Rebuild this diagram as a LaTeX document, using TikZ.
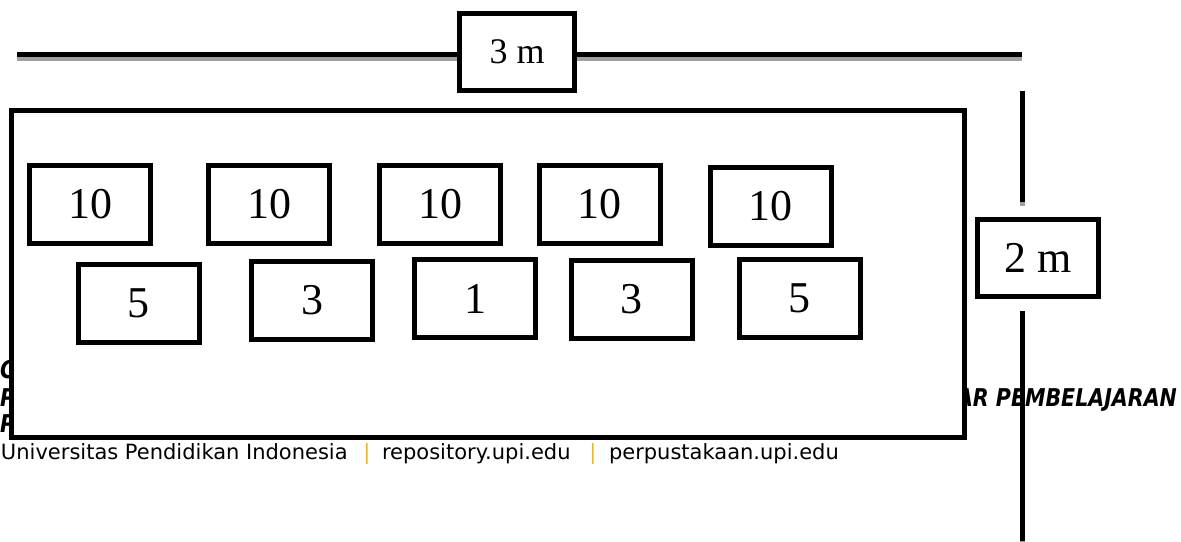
\documentclass[tikz,border=0pt]{standalone}
\usepackage{fontspec}
\newfontfamily\numfont{Liberation Serif}
\newfontfamily\footfont{DejaVu Sans}
\definecolor{barorange}{RGB}{245,182,20}
\definecolor{shadowgray}{RGB}{160,160,160}

\begin{document}
\begin{tikzpicture}[x=1pt,y=-1pt,
  every node/.style={inner sep=0pt, outer sep=0pt},
  % thick rule with a grey drop shadow below it
  rule/.style={line width=5pt,
    preaction={draw=shadowgray, line width=5pt, transform canvas={yshift=-4pt}}},
  seat/.style={draw, line width=5pt, fill=white,
    minimum width=121pt, minimum height=78pt,
    font=\numfont\fontsize{44}{50}\selectfont},
  dimbox/.style={draw, line width=5pt, fill=white, minimum height=77pt},
  headline/.style={anchor=base west, xscale=0.84,
    font=\footfont\bfseries\itshape\fontsize{24.5}{28}\selectfont},
  footline/.style={anchor=base west, font=\footfont\fontsize{21}{25}\selectfont},
  sep/.style={anchor=base, text=barorange, font=\footfont\fontsize{21}{25}\selectfont}]

\useasboundingbox (0,0) rectangle (1181,541);

% page footer lines, partly hidden behind the field
\node[headline] (h1) at (0,378) {C};
\node[headline] (h2) at (0,406) {P};
\node[headline] (h3) at (0,432) {P};
\node[headline] (h4) at (957,406) {AR PEMBELAJARAN};

\node[footline] (u1) at (1,459) {Universitas Pendidikan Indonesia};
\node[sep] (s1) at (367,459) {|};
\node[footline] (u2) at (382,459) {repository.upi.edu};
\node[sep] (s2) at (593,459) {|};
\node[footline] (u3) at (609,459) {perpustakaan.upi.edu};

% the field
\node[draw, line width=5pt, fill=white, minimum width=953pt, minimum height=327.5pt]
  (field) at (488,273.75) {};

% first row
\node[seat] (a1) at (90,204.5) {10};
\node[seat] (a2) at (269,204.5) {10};
\node[seat] (a3) at (440,204.5) {10};
\node[seat] (a4) at (599.5,204.5) {10};
\node[seat] (a5) at (770.5,206.5) {10};

% second row
\node[seat] (b1) at (138.5,303) {5};
\node[seat] (b2) at (312,300.5) {3};
\node[seat] (b3) at (475,298.5) {1};
\node[seat] (b4) at (631.5,299) {3};
\node[seat] (b5) at (799.5,298.5) {5};

% width dimension
\coordinate (tl) at (17,54.5);
\coordinate (tr) at (1022,54.5);
\draw[rule] (tl) -- (tr);
\node[dimbox, minimum width=115pt, font=\numfont\fontsize{36}{42}\selectfont]
  (w) at (517,52) {3 m};

% depth dimension
\coordinate (vt) at (1022,91);
\coordinate (v1) at (1022,202);
\coordinate (v2) at (1022,311);
\coordinate (vb) at (1022,541);
\node[dimbox, minimum width=121pt, font=\numfont\fontsize{44}{50}\selectfont]
  (d) at (1038,258) {2 m};
\draw[rule] (vt) -- (v1);
\draw[rule] (v2) -- (vb);
\end{tikzpicture}
\end{document}
